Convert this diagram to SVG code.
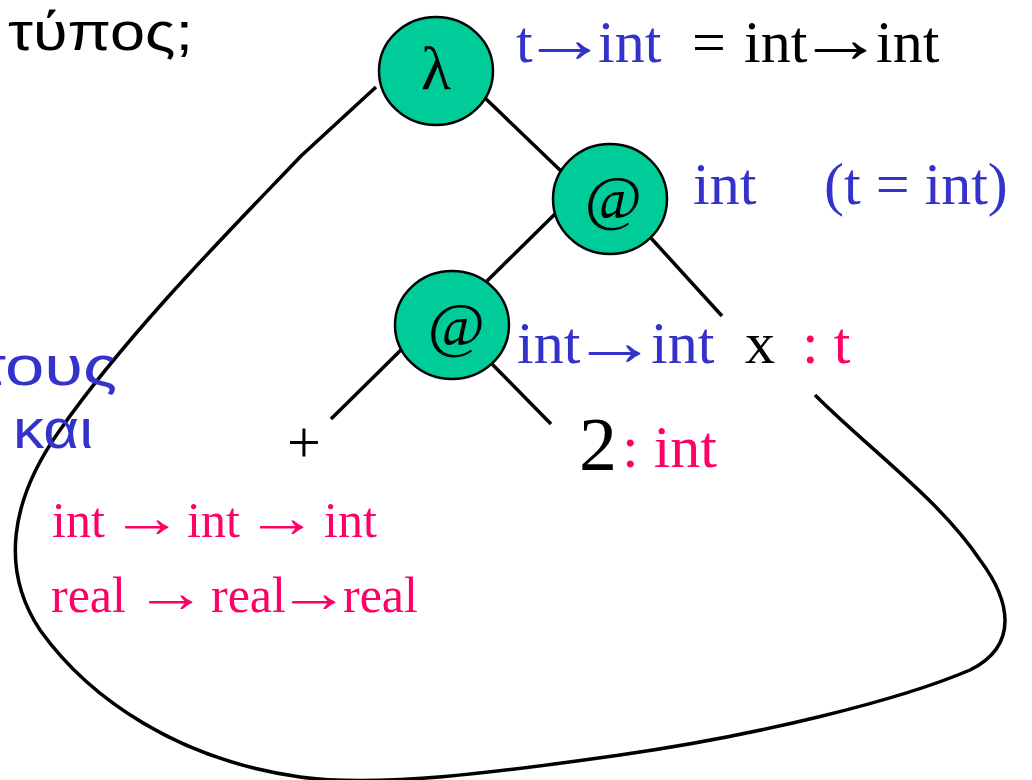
<svg xmlns="http://www.w3.org/2000/svg" width="1032" height="780" viewBox="0 0 1032 780">
<style>
.node{fill:#00CC99;stroke:#000;stroke-width:2.5}
.edge{stroke:#000;stroke-width:3.5;fill:none;stroke-linecap:butt}
.sym{font-family:"Liberation Serif",serif;font-style:italic;fill:#000;text-anchor:middle}
.lam{font-family:"Liberation Serif",serif;font-style:normal;fill:#000;text-anchor:middle}
.serif{font-family:"Liberation Serif",serif}
.sans{font-family:"Liberation Sans","Noto Sans",sans-serif}
.arr{letter-spacing:-0.3em}
.blue{fill:#3333CC}
.pink{fill:#FF0066}
.black{fill:#000}
</style>
<rect width="1032" height="780" fill="#fff"/>
<g id="connectors">
<line class="edge" x1="484" y1="97" x2="562" y2="172"/>
<line class="edge" x1="650" y1="237" x2="722" y2="316"/>
<line class="edge" x1="557" y1="212" x2="487" y2="281"/>
<line class="edge" x1="405" y1="346" x2="331" y2="419"/>
<line class="edge" x1="492" y1="364" x2="551" y2="424"/>
<path class="edge" d="M376,87 L301,156 C240,220 130,330 60,430 C10,500 0,570 40,630 C90,700 180,760 300,777 C380,788 500,772 620,755 C760,735 900,700 970,670 C1020,645 1010,600 980,560 C940,500 870,450 815,395"/>
</g>
<g id="node-lambda">
<ellipse class="node" cx="436" cy="71" rx="57" ry="54"/>
<text class="lam" x="436" y="89" font-size="62">λ</text>
</g>
<g id="node-app1">
<ellipse class="node" cx="610" cy="199" rx="57" ry="55"/>
<text class="sym" x="613" y="218" font-size="62">@</text>
</g>
<g id="node-app2">
<ellipse class="node" cx="452" cy="325" rx="57" ry="54"/>
<text class="sym" x="456" y="345" font-size="62">@</text>
</g>
<g id="labels">
<text class="sans black" x="8" y="50" font-size="54" textLength="185" lengthAdjust="spacingAndGlyphs">τύπος;</text>
<text class="sans blue" x="-22" y="385" font-size="56" textLength="139" lengthAdjust="spacingAndGlyphs">τους</text>
<text class="sans blue" x="13" y="448" font-size="56" textLength="80" lengthAdjust="spacingAndGlyphs">και</text>
<g id="label-lambda" class="serif" font-size="60">
<text class="blue" x="516" y="62">t</text>
<text class="blue arr" transform="translate(521,62) scale(1.45,1.15)">→</text>
<text class="blue" x="598" y="62">int</text>
<text class="black" x="692" y="62">=</text>
<text class="black" x="744" y="62">int</text>
<text class="black arr" transform="translate(797,62) scale(1.45,1.15)">→</text>
<text class="black" x="876" y="62">int</text>
</g>
<g id="label-app1" class="serif blue" font-size="60">
<text x="693" y="204">int</text>
<text x="824" y="204">(t = int)</text>
</g>
<g id="label-app2" class="serif blue" font-size="60">
<text x="517" y="363">int</text>
<text class="arr" transform="translate(571,365) scale(1.45,1.15)">→</text>
<text x="651" y="363">int</text>
</g>
<g id="label-x" class="serif" font-size="60">
<text class="black" x="745" y="363">x</text>
<text class="pink" x="802" y="363">: t</text>
</g>
<text class="serif black" x="304" y="462" font-size="60" text-anchor="middle">+</text>
<g id="label-2" class="serif">
<text class="black" x="579" y="470" font-size="76">2</text>
<text class="pink" x="622" y="467" font-size="60">: int</text>
</g>
<g id="label-plus-types" class="serif pink" font-size="50">
<text x="52" y="537">int</text>
<text class="arr" transform="translate(110,537) scale(1.46,1.15)">→</text>
<text x="187" y="537">int</text>
<text class="arr" transform="translate(245,537) scale(1.46,1.15)">→</text>
<text x="324" y="537">int</text>
<text x="51" y="612">real</text>
<text class="arr" transform="translate(134,612) scale(1.46,1.15)">→</text>
<text x="211" y="612">real</text>
<text class="arr" transform="translate(277,612) scale(1.46,1.15)">→</text>
<text x="343" y="612">real</text>
</g>
</g>
</svg>
